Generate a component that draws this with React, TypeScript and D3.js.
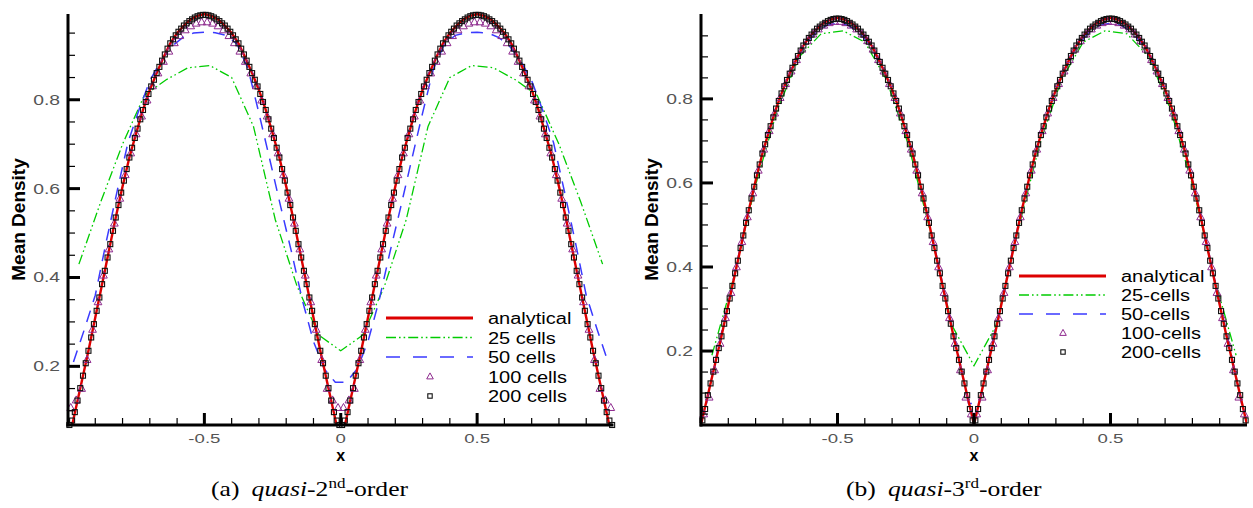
import React from 'react';
import * as d3 from 'd3';

// ---------- DATA ----------
const xTickLabels = ['-0.5', '0', '0.5'];
const xTickValues = [-0.5, 0, 0.5];
const yTickLabels = ['0.2', '0.4', '0.6', '0.8'];
const yTickValues = [0.2, 0.4, 0.6, 0.8];

const legendLeft = ['analytical', '25 cells', '50 cells', '100 cells', '200 cells'];
const legendRight = ['analytical', '25-cells', '50-cells', '100-cells', '200-cells'];

// analytical solution sampled at x = -1, -0.975, ..., 1
const analytical = [
  0.025, 0.095, 0.165, 0.235, 0.31, 0.385, 0.46, 0.535, 0.605, 0.67, 0.725, 0.777, 0.822, 0.86, 0.895, 0.927, 0.95, 0.967, 0.981, 0.989, 0.993,
  0.989, 0.981, 0.967, 0.95, 0.927, 0.895, 0.86, 0.822, 0.777, 0.725, 0.67, 0.605, 0.535, 0.46, 0.385, 0.31, 0.235, 0.165, 0.095, 0.025,
  0.095, 0.165, 0.235, 0.31, 0.385, 0.46, 0.535, 0.605, 0.67, 0.725, 0.777, 0.822, 0.86, 0.895, 0.927, 0.95, 0.967, 0.981, 0.989, 0.993,
  0.989, 0.981, 0.967, 0.95, 0.927, 0.895, 0.86, 0.822, 0.777, 0.725, 0.67, 0.605, 0.535, 0.46, 0.385, 0.31, 0.235, 0.165, 0.095, 0.025,
];

// (a) quasi-2nd-order
const q2_25 = [0.43, 0.57, 0.70, 0.81, 0.845, 0.872, 0.877, 0.85, 0.74, 0.53, 0.38, 0.27, 0.235, 0.27, 0.38, 0.53, 0.74, 0.85, 0.877, 0.872, 0.845, 0.81, 0.70, 0.57, 0.43];

const q2_50 = [
  0.21, 0.283, 0.36, 0.48, 0.594, 0.704, 0.777, 0.843, 0.887, 0.92, 0.94, 0.95, 0.952, 0.951, 0.945, 0.925, 0.87, 0.77, 0.665, 0.559, 0.456, 0.347, 0.256, 0.194, 0.164,
  0.164, 0.194, 0.256, 0.347, 0.456, 0.559, 0.665, 0.77, 0.87, 0.925, 0.945, 0.951, 0.952, 0.95, 0.94, 0.92, 0.887, 0.843, 0.777, 0.704, 0.594, 0.48, 0.36, 0.283, 0.21,
];

const q2_100 = [
  0.107, 0.124, 0.15, 0.215, 0.283, 0.345, 0.405, 0.464, 0.522, 0.578, 0.631, 0.68, 0.723, 0.763, 0.799, 0.831, 0.86, 0.886, 0.909, 0.928, 0.944, 0.957, 0.966, 0.972, 0.975,
  0.975, 0.972, 0.966, 0.957, 0.944, 0.928, 0.909, 0.886, 0.86, 0.831, 0.799, 0.763, 0.723, 0.68, 0.631, 0.578, 0.522, 0.464, 0.405, 0.345, 0.283, 0.215, 0.15, 0.124, 0.107,
  0.107, 0.124, 0.15, 0.215, 0.283, 0.345, 0.405, 0.464, 0.522, 0.578, 0.631, 0.68, 0.723, 0.763, 0.799, 0.831, 0.86, 0.886, 0.909, 0.928, 0.944, 0.957, 0.966, 0.972, 0.975,
  0.975, 0.972, 0.966, 0.957, 0.944, 0.928, 0.909, 0.886, 0.86, 0.831, 0.799, 0.763, 0.723, 0.68, 0.631, 0.578, 0.522, 0.464, 0.405, 0.345, 0.283, 0.215, 0.15, 0.124, 0.107,
];

const q2_200 = [
  0.068, 0.078, 0.097, 0.123, 0.151, 0.179, 0.207, 0.235, 0.265, 0.295, 0.325, 0.355, 0.385, 0.415, 0.445, 0.475, 0.505, 0.535, 0.563, 0.591, 0.618, 0.644, 0.67, 0.692, 0.714,
  0.735, 0.756, 0.777, 0.795, 0.813, 0.83, 0.845, 0.86, 0.874, 0.888, 0.902, 0.915, 0.927, 0.936, 0.945, 0.953, 0.96, 0.967, 0.972, 0.977, 0.981, 0.985, 0.988, 0.99, 0.991,
  0.991, 0.99, 0.988, 0.985, 0.981, 0.977, 0.972, 0.967, 0.96, 0.953, 0.945, 0.936, 0.927, 0.915, 0.902, 0.888, 0.874, 0.86, 0.845, 0.83, 0.813, 0.795, 0.777, 0.756, 0.735,
  0.714, 0.692, 0.67, 0.644, 0.618, 0.591, 0.563, 0.535, 0.505, 0.475, 0.445, 0.415, 0.385, 0.355, 0.325, 0.295, 0.265, 0.235, 0.207, 0.179, 0.151, 0.123, 0.097, 0.078, 0.068,
  0.068, 0.078, 0.097, 0.123, 0.151, 0.179, 0.207, 0.235, 0.265, 0.295, 0.325, 0.355, 0.385, 0.415, 0.445, 0.475, 0.505, 0.535, 0.563, 0.591, 0.618, 0.644, 0.67, 0.692, 0.714,
  0.735, 0.756, 0.777, 0.795, 0.813, 0.83, 0.845, 0.86, 0.874, 0.888, 0.902, 0.915, 0.927, 0.936, 0.945, 0.953, 0.96, 0.967, 0.972, 0.977, 0.981, 0.985, 0.988, 0.99, 0.991,
  0.991, 0.99, 0.988, 0.985, 0.981, 0.977, 0.972, 0.967, 0.96, 0.953, 0.945, 0.936, 0.927, 0.915, 0.902, 0.888, 0.874, 0.86, 0.845, 0.83, 0.813, 0.795, 0.777, 0.756, 0.735,
  0.714, 0.692, 0.67, 0.644, 0.618, 0.591, 0.563, 0.535, 0.505, 0.475, 0.445, 0.415, 0.385, 0.355, 0.325, 0.295, 0.265, 0.235, 0.207, 0.179, 0.151, 0.123, 0.097, 0.078, 0.068,
];

// (b) quasi-3rd-order
const q3_25 = [0.19, 0.375, 0.595, 0.775, 0.9, 0.955, 0.962, 0.935, 0.845, 0.69, 0.485, 0.26, 0.165, 0.26, 0.485, 0.69, 0.845, 0.935, 0.962, 0.955, 0.9, 0.775, 0.595, 0.375, 0.19];

const q3_50 = [
  0.075, 0.2, 0.315, 0.435, 0.553, 0.66, 0.748, 0.822, 0.88, 0.928, 0.958, 0.975, 0.98, 0.975, 0.958, 0.928, 0.88, 0.822, 0.748, 0.66, 0.553, 0.435, 0.315, 0.2, 0.075,
  0.075, 0.2, 0.315, 0.435, 0.553, 0.66, 0.748, 0.822, 0.88, 0.928, 0.958, 0.975, 0.98, 0.975, 0.958, 0.928, 0.88, 0.822, 0.748, 0.66, 0.553, 0.435, 0.315, 0.2, 0.075,
];

const q3_100 = [
  0.05, 0.09, 0.155, 0.218, 0.279, 0.339, 0.4, 0.46, 0.519, 0.576, 0.63, 0.68, 0.724, 0.766, 0.803, 0.836, 0.866, 0.893, 0.918, 0.938, 0.954, 0.966, 0.975, 0.981, 0.984,
  0.984, 0.981, 0.975, 0.966, 0.954, 0.938, 0.918, 0.893, 0.866, 0.836, 0.803, 0.766, 0.724, 0.68, 0.63, 0.576, 0.519, 0.46, 0.4, 0.339, 0.279, 0.218, 0.155, 0.09, 0.05,
  0.05, 0.09, 0.155, 0.218, 0.279, 0.339, 0.4, 0.46, 0.519, 0.576, 0.63, 0.68, 0.724, 0.766, 0.803, 0.836, 0.866, 0.893, 0.918, 0.938, 0.954, 0.966, 0.975, 0.981, 0.984,
  0.984, 0.981, 0.975, 0.966, 0.954, 0.938, 0.918, 0.893, 0.866, 0.836, 0.803, 0.766, 0.724, 0.68, 0.63, 0.576, 0.519, 0.46, 0.4, 0.339, 0.279, 0.218, 0.155, 0.09, 0.05,
];

const q3_200 = [
  0.035, 0.062, 0.095, 0.123, 0.151, 0.179, 0.207, 0.235, 0.265, 0.295, 0.325, 0.355, 0.385, 0.415, 0.445, 0.475, 0.505, 0.535, 0.563, 0.591, 0.618, 0.644, 0.67, 0.692, 0.714,
  0.735, 0.756, 0.777, 0.795, 0.813, 0.83, 0.845, 0.86, 0.874, 0.888, 0.902, 0.915, 0.927, 0.936, 0.945, 0.953, 0.96, 0.967, 0.972, 0.977, 0.981, 0.985, 0.988, 0.99, 0.991,
  0.991, 0.99, 0.988, 0.985, 0.981, 0.977, 0.972, 0.967, 0.96, 0.953, 0.945, 0.936, 0.927, 0.915, 0.902, 0.888, 0.874, 0.86, 0.845, 0.83, 0.813, 0.795, 0.777, 0.756, 0.735,
  0.714, 0.692, 0.67, 0.644, 0.618, 0.591, 0.563, 0.535, 0.505, 0.475, 0.445, 0.415, 0.385, 0.355, 0.325, 0.295, 0.265, 0.235, 0.207, 0.179, 0.151, 0.123, 0.095, 0.062, 0.035,
  0.035, 0.062, 0.095, 0.123, 0.151, 0.179, 0.207, 0.235, 0.265, 0.295, 0.325, 0.355, 0.385, 0.415, 0.445, 0.475, 0.505, 0.535, 0.563, 0.591, 0.618, 0.644, 0.67, 0.692, 0.714,
  0.735, 0.756, 0.777, 0.795, 0.813, 0.83, 0.845, 0.86, 0.874, 0.888, 0.902, 0.915, 0.927, 0.936, 0.945, 0.953, 0.96, 0.967, 0.972, 0.977, 0.981, 0.985, 0.988, 0.99, 0.991,
  0.991, 0.99, 0.988, 0.985, 0.981, 0.977, 0.972, 0.967, 0.96, 0.953, 0.945, 0.936, 0.927, 0.915, 0.902, 0.888, 0.874, 0.86, 0.845, 0.83, 0.813, 0.795, 0.777, 0.756, 0.735,
  0.714, 0.692, 0.67, 0.644, 0.618, 0.591, 0.563, 0.535, 0.505, 0.475, 0.445, 0.415, 0.385, 0.355, 0.325, 0.295, 0.265, 0.235, 0.207, 0.179, 0.151, 0.123, 0.095, 0.062, 0.035,
];

// ---------- STYLE ----------
const RED = '#dd0000';
const GREEN = '#00cc00';
const BLUE = '#3a3aff';
const PURPLE = '#8e2a8e';
const SANS = '"Liberation Sans", Arial, Helvetica, sans-serif';
const SERIF = '"Liberation Serif", "Times New Roman", "DejaVu Serif", serif';

const cellCenters = (n: number) => d3.range(n).map((i) => -1 + (2 * (i + 0.5)) / n);
const analyticalX = d3.range(analytical.length).map((i) => -1 + (2 * i) / (analytical.length - 1));

type PanelProps = {
  id: string;
  left: number;
  right: number;
  top: number;
  bottom: number;
  yDomain: [number, number];
  s25: number[];
  s50: number[];
  s100: number[];
  s200: number[];
  legend: string[];
  legendX: number;
  legendY: number;
  legendDy: number;
  yLabelX: number;
};

function Panel(p: PanelProps) {
  const x = d3.scaleLinear().domain([-1, 1]).range([p.left, p.right]);
  const y = d3.scaleLinear().domain(p.yDomain).range([p.bottom, p.top]);
  const line = d3.line<[number, number]>().x((d) => x(d[0])).y((d) => y(d[1]));
  const zip = (xs: number[], ys: number[]) => xs.map((v, i) => [v, ys[i]] as [number, number]);

  const c25 = zip(cellCenters(25), p.s25);
  const c50 = zip(cellCenters(50), p.s50);
  const c100 = zip(cellCenters(100), p.s100);
  const c200 = zip(cellCenters(200), p.s200);
  const an = zip(analyticalX, analytical);

  const inY = (v: number) => v >= p.yDomain[0] - 0.004 && v <= p.yDomain[1] + 0.004;

  const yMinor = d3.range(1, 20).map((i) => i * 0.05).filter((v) => inY(v) && !yTickValues.some((m) => Math.abs(m - v) < 1e-6));
  const xMinor = d3.range(-9, 10).map((i) => i * 0.1).filter((v) => !xTickValues.some((m) => Math.abs(m - v) < 1e-6));

  const tri = (cx: number, cy: number, s: number) =>
    `M${cx},${cy - s * 0.6}L${cx + s * 0.55},${cy + s * 0.4}L${cx - s * 0.55},${cy + s * 0.4}Z`;

  const greenDash = '10,3,1.6,3,1.6,3';
  const blueDash = '12,9';

  const lg = p.legend;
  const ly = (i: number) => p.legendY + i * p.legendDy;
  const lx0 = p.legendX;
  const lx1 = p.legendX + 87;
  const lmid = p.legendX + 44;
  const ltext = p.legendX + 102;

  return (
    <g>
      <defs>
        <clipPath id={`clip-${p.id}`}>
          <rect x={p.left} y={p.top - 2} width={p.right - p.left} height={p.bottom - p.top + 2} />
        </clipPath>
      </defs>
      <g clipPath={`url(#clip-${p.id})`}>
        <path d={line(c25) || ''} fill="none" stroke={GREEN} strokeWidth={1.3} strokeDasharray={greenDash} />
        <path d={line(c50) || ''} fill="none" stroke={BLUE} strokeWidth={1.5} strokeDasharray={blueDash} />
        <path d={line(an) || ''} fill="none" stroke={RED} strokeWidth={2.4} />
      </g>
      {c100.filter((d) => inY(d[1])).map((d, i) => (
        <path key={`t${i}`} d={tri(x(d[0]), y(d[1]), 7)} fill="none" stroke={PURPLE} strokeWidth={1} />
      ))}
      {c200.filter((d) => inY(d[1])).map((d, i) => (
        <rect key={`s${i}`} x={x(d[0]) - 2.5} y={y(d[1]) - 2.5} width={5} height={5} fill="none" stroke="#111" strokeWidth={1.1} />
      ))}

      {/* axes */}
      <line x1={p.left} x2={p.left} y1={p.top} y2={p.bottom + 1.5} stroke="#000" strokeWidth={3} />
      <line x1={p.left - 1.5} x2={p.right} y1={p.bottom} y2={p.bottom} stroke="#000" strokeWidth={3} />
      {yTickValues.map((v, i) => (
        <g key={`yt${i}`}>
          <line x1={p.left} x2={p.left + 12} y1={y(v)} y2={y(v)} stroke="#000" strokeWidth={3} />
          <text
            transform={`translate(${p.left - 8},${y(v) + 5}) scale(1.38,1)`}
            textAnchor="end"
            fontFamily={SANS}
            fontSize={14}
            fill="#555"
          >
            {yTickLabels[i]}
          </text>
        </g>
      ))}
      {yMinor.map((v, i) => (
        <line key={`ym${i}`} x1={p.left} x2={p.left + 7} y1={y(v)} y2={y(v)} stroke="#000" strokeWidth={1.2} />
      ))}
      {xTickValues.map((v, i) => (
        <g key={`xt${i}`}>
          <line x1={x(v)} x2={x(v)} y1={p.bottom} y2={p.bottom - 12} stroke="#000" strokeWidth={3} />
          <text
            transform={`translate(${x(v)},${p.bottom + 18}) scale(1.38,1)`}
            textAnchor="middle"
            fontFamily={SANS}
            fontSize={13.5}
            fill="#555"
          >
            {xTickLabels[i]}
          </text>
        </g>
      ))}
      {xMinor.map((v, i) => (
        <line key={`xm${i}`} x1={x(v)} x2={x(v)} y1={p.bottom} y2={p.bottom - 7} stroke="#000" strokeWidth={1.2} />
      ))}

      {/* axis titles */}
      <text
        transform={`translate(${p.yLabelX},${(p.top + p.bottom) / 2}) rotate(-90)`}
        textAnchor="middle"
        fontFamily={SANS}
        fontWeight="bold"
        fontSize={19}
        fill="#000"
      >
        Mean Density
      </text>
      <text x={x(0)} y={p.bottom + 36} textAnchor="middle" fontFamily={SANS} fontWeight="bold" fontSize={16} fill="#000">
        x
      </text>

      {/* legend */}
      <line x1={lx0} x2={lx1} y1={ly(0)} y2={ly(0)} stroke={RED} strokeWidth={3} />
      <line x1={lx0} x2={lx1} y1={ly(1)} y2={ly(1)} stroke={GREEN} strokeWidth={1.5} strokeDasharray={greenDash} />
      <line x1={lx0} x2={lx1} y1={ly(2)} y2={ly(2)} stroke={BLUE} strokeWidth={1.5} strokeDasharray="14,13" />
      <path d={tri(lmid, ly(3), 6)} fill="none" stroke={PURPLE} strokeWidth={1} />
      <rect x={lmid - 2.2} y={ly(4) - 2.2} width={4.4} height={4.4} fill="none" stroke="#111" strokeWidth={1.1} />
      {lg.map((t, i) => (
        <text
          key={`lg${i}`}
          transform={`translate(${ltext},${ly(i) + 6}) scale(1.25,1)`}
          fontFamily={SANS}
          fontSize={16}
          fill="#000"
        >
          {t}
        </text>
      ))}
    </g>
  );
}

function Caption({ x, y, tag, ord, sup }: { x: number; y: number; tag: string; ord: string; sup: string }) {
  return (
    <text transform={`translate(${x},${y}) scale(1.22,1)`} fontFamily={SERIF} fontSize={21} fill="#000">
      <tspan>{tag}</tspan>
      <tspan dx={10} fontStyle="italic">quasi</tspan>
      <tspan>{`-${ord}`}</tspan>
      <tspan dy={-8} fontSize={14}>{sup}</tspan>
      <tspan dy={8}>-order</tspan>
    </text>
  );
}

export default function App() {
  return (
    <svg
      width={1253}
      height={508}
      viewBox="0 0 1253 508"
      style={{ position: 'absolute', left: 0, top: 0, background: '#fff' }}
    >
      <rect x={0} y={0} width={1253} height={508} fill="#fff" />
      <Panel
        id="a"
        left={68}
        right={613.5}
        top={14}
        bottom={425}
        yDomain={[0.068, 0.993]}
        s25={q2_25}
        s50={q2_50}
        s100={q2_100}
        s200={q2_200}
        legend={legendLeft}
        legendX={386}
        legendY={318}
        legendDy={19.5}
        yLabelX={25}
      />
      <Panel
        id="b"
        left={701}
        right={1247}
        top={14}
        bottom={425}
        yDomain={[0.024, 1.002]}
        s25={q3_25}
        s50={q3_50}
        s100={q3_100}
        s200={q3_200}
        legend={legendRight}
        legendX={1019}
        legendY={276}
        legendDy={19}
        yLabelX={658}
      />
      <Caption x={211} y={496} tag="(a)" ord="2" sup="nd" />
      <Caption x={846} y={496} tag="(b)" ord="3" sup="rd" />
    </svg>
  );
}
